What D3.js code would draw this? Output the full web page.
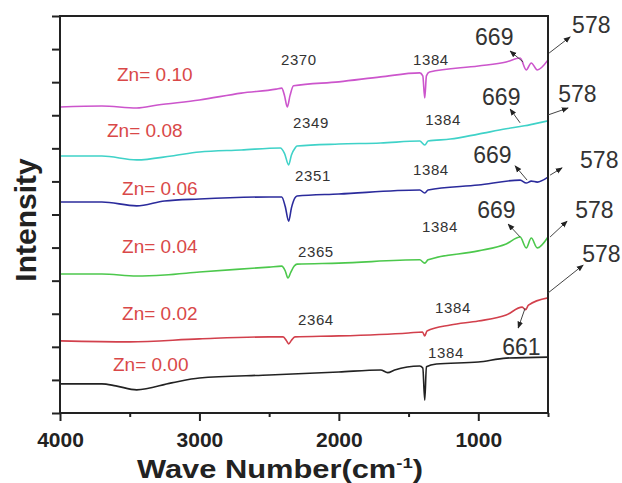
<!DOCTYPE html>
<html>
<head>
<meta charset="utf-8">
<script src="https://cdn.jsdelivr.net/npm/d3@7"></script>
<style>
  body { margin: 0; background: #fff; }
  svg { display: block; font-family: "Liberation Sans", Arial, sans-serif; }
</style>
</head>
<body>
<div id="container"></div>
<script>
// spectra: [wave number, intensity (a.u.)]
const zn000 = [[4000,0.88],[3700,0.88],[3600,0.82],[3450,0.70],[3200,0.91],[3000,1.06],[2500,1.15],[2000,1.24],[1700,1.30],[1650,1.22],[1600,1.30],[1420,1.42],[1398,1.36],[1384,0.39],[1372,1.40],[1300,1.48],[1000,1.54],[800,1.66],[500,1.69]];
const zn002 = [[4000,2.18],[3500,2.15],[3000,2.24],[2500,2.30],[2400,2.30],[2375,2.18],[2360,2.09],[2340,2.20],[2315,2.30],[2000,2.33],[1500,2.42],[1400,2.45],[1384,2.33],[1368,2.48],[1200,2.66],[1000,2.78],[800,2.96],[685,3.20],[661,3.12],[640,3.26],[500,3.48]];
const zn004 = [[4000,4.20],[3700,4.20],[3450,4.14],[3250,4.17],[3000,4.26],[2500,4.41],[2410,4.44],[2385,4.30],[2365,4.08],[2345,4.25],[2320,4.44],[2300,4.50],[2000,4.53],[1420,4.63],[1384,4.53],[1360,4.63],[1000,4.90],[800,5.11],[700,5.32],[656,4.99],[620,5.29],[577,4.99],[500,5.32]];
const zn006 = [[4000,6.38],[3700,6.38],[3450,6.26],[3250,6.41],[3000,6.47],[2500,6.53],[2410,6.53],[2385,6.25],[2360,5.80],[2340,6.20],[2315,6.50],[2300,6.56],[2000,6.62],[1420,6.74],[1384,6.65],[1360,6.74],[1000,6.89],[700,7.04],[656,6.95],[620,7.01],[577,6.98],[500,7.13]];
const zn008 = [[4000,7.77],[3700,7.77],[3450,7.65],[3200,7.77],[3000,7.89],[2700,7.95],[2420,8.01],[2390,7.85],[2360,7.50],[2340,7.80],[2315,8.00],[2300,8.07],[2000,8.13],[1700,8.16],[1420,8.22],[1384,8.10],[1360,8.22],[1200,8.28],[1000,8.43],[800,8.59],[669,8.68],[600,8.74],[500,8.83]];
const zn010 = [[4000,9.25],[3700,9.28],[3450,9.22],[3300,9.31],[3000,9.46],[2700,9.67],[2450,9.79],[2410,9.82],[2390,9.60],[2370,9.25],[2350,9.60],[2325,9.89],[2000,10.01],[1700,10.16],[1420,10.28],[1398,10.19],[1384,9.52],[1372,10.19],[1350,10.31],[1000,10.49],[800,10.61],[700,10.73],[656,10.37],[620,10.58],[577,10.37],[500,10.67]];

const seriesNames = ["Zn= 0.00", "Zn= 0.02", "Zn= 0.04", "Zn= 0.06", "Zn= 0.08", "Zn= 0.10"];
const seriesData = [zn000, zn002, zn004, zn006, zn008, zn010];
const seriesColors = ["#222222", "#d2404c", "#4cc84c", "#2b2b9c", "#3fd2c8", "#cc55cc"];
// where each Zn label sits: [wave number, intensity]
const seriesLabelAt = [[3620,1.27],[3555,2.81],[3555,4.84],[3555,6.59],[3663,8.34],[3591,10.04]];

const xTicks = [4000, 3000, 2000, 1000];
const xMinor = [3500, 2500, 1500, 500];
const yTicks = d3.range(0, 13);

// peak labels: [text, wave number, intensity, big]
const peakLabels = [
  ["2370", 2415, 10.52, false], ["1384", 1468, 10.52, false], ["669", 1023, 11.12, true], ["578", 327, 11.49, true],
  ["2349", 2328, 8.62, false], ["1384", 1381, 8.71, false], ["669", 973, 9.31, true], ["578", 427, 9.40, true],
  ["2351", 2314, 7.01, false], ["1384", 1468, 7.19, false], ["669", 1037, 7.56, true], ["578", 270, 7.41, true],
  ["2365", 2293, 4.72, false], ["1384", 1403, 5.47, false], ["669", 1008, 5.89, true], ["578", 305, 5.89, true],
  ["2364", 2293, 2.66, false], ["1384", 1310, 3.02, false], ["578", 255, 4.56, true], ["661", 829, 1.75, true],
  ["1384", 1360, 1.66, false]
];
// arrows: [from wave, from int, to wave, to int]
const peakArrows = [
  [678,10.61,772,10.94],[492,10.88,341,11.37],
  [700,8.77,772,9.19],[499,9.01,356,9.22],
  [650,7.04,736,7.47],[485,7.19,399,7.41],
  [700,5.32,786,5.71],[485,5.32,363,5.80],
  [499,3.63,248,4.47],[664,3.17,714,2.57]
];

const w = 622;
const h = 483;
const pad = { top: 16, right: 74, bottom: 70, left: 60 };

const x = d3.scaleLinear().domain([4000, 500]).range([pad.left, w - pad.right]);
const y = d3.scaleLinear().domain([0, 12]).range([h - pad.bottom, pad.top]);

const svg = d3.select("#container").append("svg").attr("width", w).attr("height", h);

svg.append("defs").append("clipPath").attr("id", "plotclip")
  .append("rect")
  .attr("x", pad.left).attr("y", pad.top)
  .attr("width", w - pad.left - pad.right).attr("height", h - pad.top - pad.bottom);

const marker = svg.select("defs").append("marker")
  .attr("id", "head").attr("viewBox", "0 0 10 10")
  .attr("refX", 9).attr("refY", 5)
  .attr("markerWidth", 7).attr("markerHeight", 7)
  .attr("orient", "auto-start-reverse");
marker.append("path").attr("d", "M0,1 L10,5 L0,9 Z").attr("fill", "#222");

const line = d3.line().x((d) => x(d[0])).y((d) => y(d[1])).curve(d3.curveMonotoneX);

svg.append("g").attr("clip-path", "url(#plotclip)")
  .selectAll("path")
  .data(seriesData)
  .enter()
  .append("path")
  .attr("d", line)
  .attr("fill", "none")
  .attr("stroke", (d, i) => seriesColors[i])
  .attr("stroke-width", 1.6)
  .attr("stroke-linejoin", "round");

// frame
svg.append("rect")
  .attr("x", pad.left).attr("y", pad.top)
  .attr("width", w - pad.left - pad.right).attr("height", h - pad.top - pad.bottom)
  .attr("fill", "none").attr("stroke", "#222").attr("stroke-width", 2);

const xAxis = svg.append("g")
  .attr("transform", `translate(0,${h - pad.bottom})`)
  .call(d3.axisBottom(x).tickValues(xTicks).tickSize(8).tickSizeOuter(0).tickFormat(d3.format("d")));
xAxis.select(".domain").remove();
xAxis.selectAll("line").attr("stroke", "#222").attr("stroke-width", 2);
xAxis.selectAll("text")
  .attr("y", 19)
  .attr("font-size", 21).attr("font-weight", "bold").attr("fill", "#222")
  .attr("font-family", "'Liberation Sans', Arial, sans-serif");

const xMinorAxis = svg.append("g")
  .attr("transform", `translate(0,${h - pad.bottom})`)
  .call(d3.axisBottom(x).tickValues(xMinor).tickSize(4).tickFormat(""));
xMinorAxis.select(".domain").remove();
xMinorAxis.selectAll("line").attr("stroke", "#222").attr("stroke-width", 2);

const yAxis = svg.append("g")
  .attr("transform", `translate(${pad.left},0)`)
  .call(d3.axisLeft(y).tickValues(yTicks).tickSize(8).tickFormat(""));
yAxis.select(".domain").remove();
yAxis.selectAll("line").attr("stroke", "#222").attr("stroke-width", 2);

// Zn labels
svg.append("g")
  .selectAll("text")
  .data(seriesNames)
  .enter()
  .append("text")
  .attr("x", (d, i) => x(seriesLabelAt[i][0]))
  .attr("y", (d, i) => y(seriesLabelAt[i][1]))
  .attr("font-size", 19)
  .attr("fill", "#d94848")
  .text((d) => d);

// peak labels
svg.append("g")
  .selectAll("text")
  .data(peakLabels)
  .enter()
  .append("text")
  .attr("x", (d) => x(d[1]))
  .attr("y", (d) => y(d[2]))
  .attr("font-size", (d) => (d[3] ? 23 : 15))
  .attr("letter-spacing", (d) => (d[3] ? 0 : 0.6))
  .attr("fill", "#333")
  .text((d) => d[0]);

svg.append("g")
  .selectAll("line")
  .data(peakArrows)
  .enter()
  .append("line")
  .attr("x1", (d) => x(d[0])).attr("y1", (d) => y(d[1]))
  .attr("x2", (d) => x(d[2])).attr("y2", (d) => y(d[3]))
  .attr("stroke", "#444").attr("stroke-width", 1)
  .attr("marker-end", "url(#head)");

// axis titles
svg.append("text")
  .attr("transform", "translate(36,220) rotate(-90)")
  .attr("text-anchor", "middle")
  .attr("font-size", 30).attr("font-weight", "bold").attr("fill", "#222")
  .text("Intensity");

const xTitle = svg.append("text")
  .attr("x", 137).attr("y", 478)
  .attr("textLength", 286).attr("lengthAdjust", "spacingAndGlyphs")
  .attr("font-size", 25).attr("font-weight", "bold").attr("fill", "#222");
xTitle.append("tspan").text("Wave Number(cm");
xTitle.append("tspan").attr("font-size", 15).attr("dy", -10).text("-1");
xTitle.append("tspan").attr("dy", 10).text(")");
</script>
</body>
</html>
